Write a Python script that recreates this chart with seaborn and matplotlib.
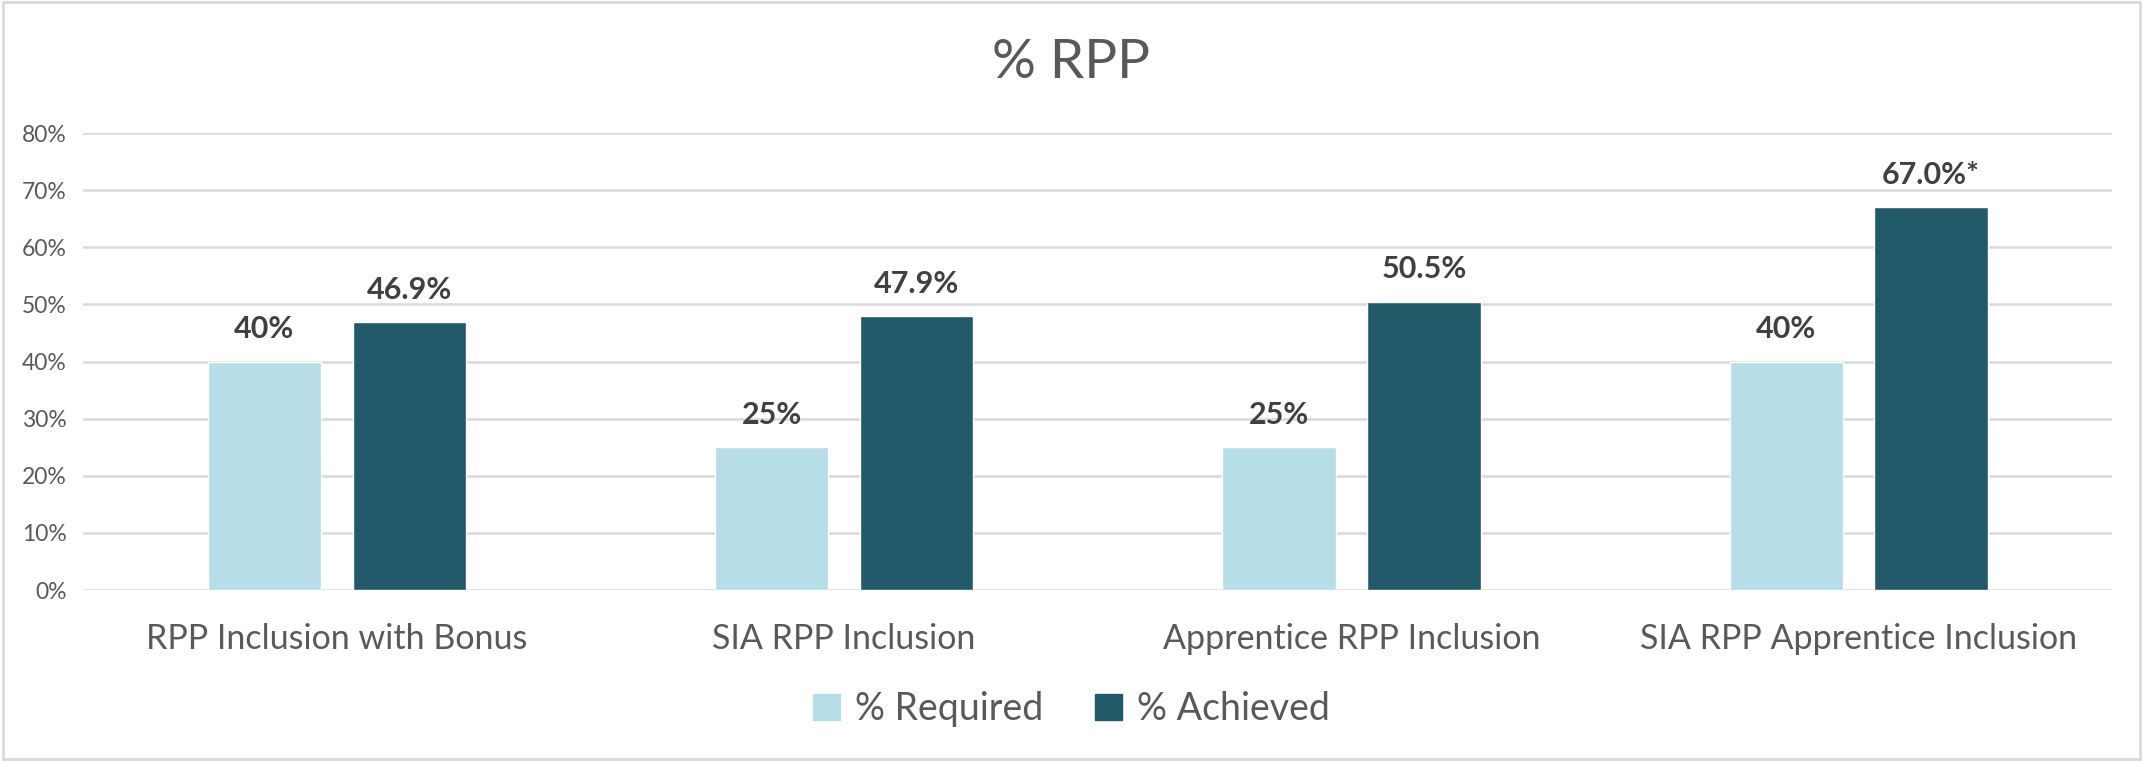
import matplotlib
matplotlib.use("Agg")
import matplotlib.pyplot as plt
import matplotlib.patches as mpatches
from matplotlib.ticker import PercentFormatter
import seaborn as sns
import pandas as pd

# chart values
categories = ["RPP Inclusion with Bonus", "SIA RPP Inclusion",
              "Apprentice RPP Inclusion", "SIA RPP Apprentice Inclusion"]
required = [0.40, 0.25, 0.25, 0.40]
achieved = [0.469, 0.479, 0.505, 0.670]
required_labels = ["40%", "25%", "25%", "40%"]
achieved_labels = ["46.9%", "47.9%", "50.5%", "67.0%*"]
series_names = ["% Required", "% Achieved"]

LIGHT = "#b7dde8"
DARK = "#215968"
GRID = "#d9d9d9"
TXT = "#595959"

df = pd.DataFrame({
    "category": categories * 2,
    "value": required + achieved,
    "series": [series_names[0]] * 4 + [series_names[1]] * 4,
    "label": required_labels + achieved_labels,
})

sns.set_style("white")
plt.rcParams['font.family'] = ['Lato', 'DejaVu Sans']

fig = plt.figure(figsize=(21.43, 7.61), dpi=100)
ax = fig.add_axes([0.0388, 0.2247, 0.9469, 0.6005])

sns.barplot(data=df, x="category", y="value", hue="series",
            palette=[LIGHT, DARK], width=0.571, gap=0.217,
            saturation=1, ax=ax, legend=False)

ax.set_ylim(0, 0.8)
ax.set_xlim(-0.5, len(categories) - 0.5)
ax.yaxis.set_major_formatter(PercentFormatter(1.0, decimals=0))
ax.set_yticks([i / 10 for i in range(9)])
ax.grid(axis="y", color=GRID, linewidth=1.8)
ax.set_axisbelow(True)
for s in ax.spines.values():
    s.set_visible(False)
ax.tick_params(axis="y", length=0, labelsize=16.5, labelcolor=TXT, pad=12)
ax.tick_params(axis="x", length=0, labelsize=24.5, labelcolor=TXT, pad=24)
ax.set_xlabel("")
ax.set_ylabel("")

# data labels
for cont, labels in zip(ax.containers, [required_labels, achieved_labels]):
    ax.bar_label(cont, labels=labels, padding=13, fontsize=22,
                 fontweight="bold", color="#404040")

fig.text(0.5, 0.918, "% RPP", ha="center", va="center", fontsize=39.5, color=TXT)

handles = [mpatches.Patch(color=LIGHT, label=series_names[0]),
           mpatches.Patch(color=DARK, label=series_names[1])]
fig.legend(handles=handles, loc="center", bbox_to_anchor=(0.5, 0.068), ncol=2,
           frameon=False, fontsize=27, labelcolor=TXT, handlelength=0.7,
           handleheight=0.7, handletextpad=0.4, columnspacing=1.4)

# chart border
fig.patches.append(mpatches.Rectangle((0.0015, 0.002), 0.997, 0.995,
                                      transform=fig.transFigure, fill=False,
                                      edgecolor=GRID, linewidth=2))

fig.savefig("out.png", dpi=100)
